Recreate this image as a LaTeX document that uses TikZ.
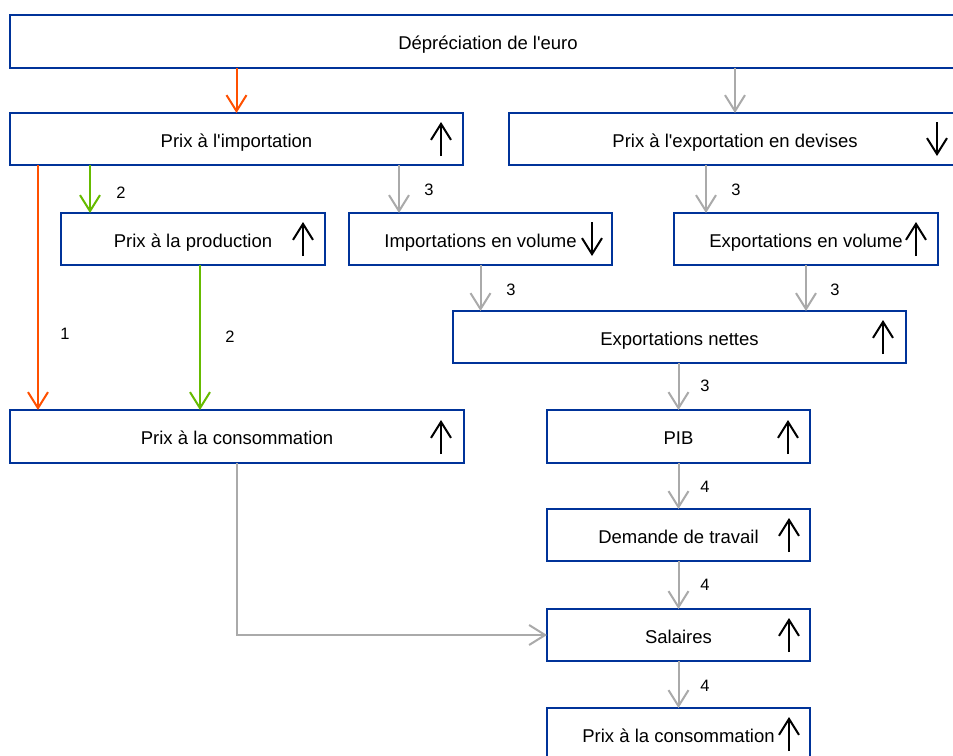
\documentclass[tikz,border=0pt]{standalone}
\usepackage{fontspec}
\setmainfont{Liberation Sans}
\usetikzlibrary{arrows.meta}
\definecolor{boxblue}{RGB}{0,51,153}
\definecolor{arrorange}{RGB}{255,80,0}
\definecolor{arrgreen}{RGB}{102,187,0}
\definecolor{arrgray}{RGB}{170,170,170}
\newcommand{\apos}{\textquotesingle}
\tikzset{
  box/.style={draw=boxblue, line width=1.8pt, fill=white, inner sep=0pt, outer sep=0pt,
    font=\fontsize{18.5}{21}\selectfont, text height=18pt, text depth=2pt},
  conn/.style={line width=2pt, -{Straight Barb[length=16pt,width=20pt,line width=2pt]}},
  orangearr/.style={conn, draw=arrorange},
  greenarr/.style={conn, draw=arrgreen},
  grayarr/.style={conn, draw=arrgray},
  ind/.style={line width=2pt, black, -{Straight Barb[length=16pt,width=20pt,line width=2pt]}},
  lbl/.style={font=\fontsize{16.5}{18}\selectfont, inner sep=0pt}
}
\begin{document}
\begin{tikzpicture}[x=1pt,y=-1pt]
\useasboundingbox (0,0) rectangle (953,755);
\clip (0,0) rectangle (953,755);
\fill[white] (0,0) rectangle (953,755);
% boxes
\node[box, minimum width=956pt, minimum height=53pt] (dep) at (488,41.5) {Dépréciation de l\apos euro};
\node[box, minimum width=453pt, minimum height=52pt] (imp) at (236.5,139) {Prix à l\apos importation};
\node[box, minimum width=452pt, minimum height=52pt] (exp) at (735,139) {Prix à l\apos exportation en devises};
\node[box, minimum width=264pt, minimum height=52pt] (prod) at (193,239) {Prix à la production};
\node[box, minimum width=263pt, minimum height=52pt] (impv) at (480.5,239) {Importations en volume};
\node[box, minimum width=264pt, minimum height=52pt] (expv) at (806,239) {Exportations en volume};
\node[box, minimum width=453pt, minimum height=52pt] (net) at (679.5,337) {Exportations nettes};
\node[box, minimum width=454pt, minimum height=53pt] (conL) at (237,436.5) {Prix à la consommation};
\node[box, minimum width=263pt, minimum height=53pt] (pib) at (678.5,436.5) {PIB};
\node[box, minimum width=263pt, minimum height=52pt] (dem) at (678.5,535) {Demande de travail};
\node[box, minimum width=263pt, minimum height=52pt] (sal) at (678.5,635) {Salaires};
\node[box, minimum width=263pt, minimum height=52pt] (con2) at (678.5,734) {Prix à la consommation};
% indicator arrows
\draw[ind] (441,156) -- (441,122);
\draw[ind] (937,122) -- (937,156);
\draw[ind] (303,256) -- (303,222);
\draw[ind] (592,222) -- (592,256);
\draw[ind] (916,256) -- (916,222);
\draw[ind] (883,354) -- (883,320);
\draw[ind] (441,454) -- (441,420);
\draw[ind] (788,454) -- (788,420);
\draw[ind] (789,552) -- (789,518);
\draw[ind] (789,652) -- (789,618);
\draw[ind] (789,751) -- (789,717);
% connectors
\coordinate (o1) at (38,165);
\coordinate (g1) at (90,165);
\coordinate (g2) at (200,265);
\coordinate (s1) at (399,165);
\coordinate (s2) at (706,165);
\draw[orangearr] (dep.south -| imp.north) -- (imp.north);
\draw[grayarr] (dep.south -| exp.north) -- (exp.north);
\draw[orangearr] (o1) -- (o1 |- conL.north);
\draw[greenarr] (g1) -- (g1 |- prod.north);
\draw[greenarr] (g2) -- (g2 |- conL.north);
\draw[grayarr] (s1) -- (s1 |- impv.north);
\draw[grayarr] (s2) -- (s2 |- expv.north);
\draw[grayarr] (impv.south) -- (impv.south |- net.north);
\draw[grayarr] (expv.south) -- (expv.south |- net.north);
\draw[grayarr] (net.south -| pib.north) -- (pib.north);
\draw[grayarr] (pib.south) -- (dem.north);
\draw[grayarr] (dem.south) -- (sal.north);
\draw[grayarr] (sal.south) -- (con2.north);
\draw[grayarr] (conL.south) |- (sal.west);
% labels
\node[lbl] (l1) at (65,334) {1};
\node[lbl] (l2a) at (121,193) {2};
\node[lbl] (l2b) at (230,337) {2};
\node[lbl] (l3a) at (429,190) {3};
\node[lbl] (l3b) at (736,190) {3};
\node[lbl] (l3c) at (511,290) {3};
\node[lbl] (l3d) at (835,290) {3};
\node[lbl] (l3e) at (705,386) {3};
\node[lbl] (l4a) at (705,487) {4};
\node[lbl] (l4b) at (705,585) {4};
\node[lbl] (l4c) at (705,686) {4};
\end{tikzpicture}
\end{document}
